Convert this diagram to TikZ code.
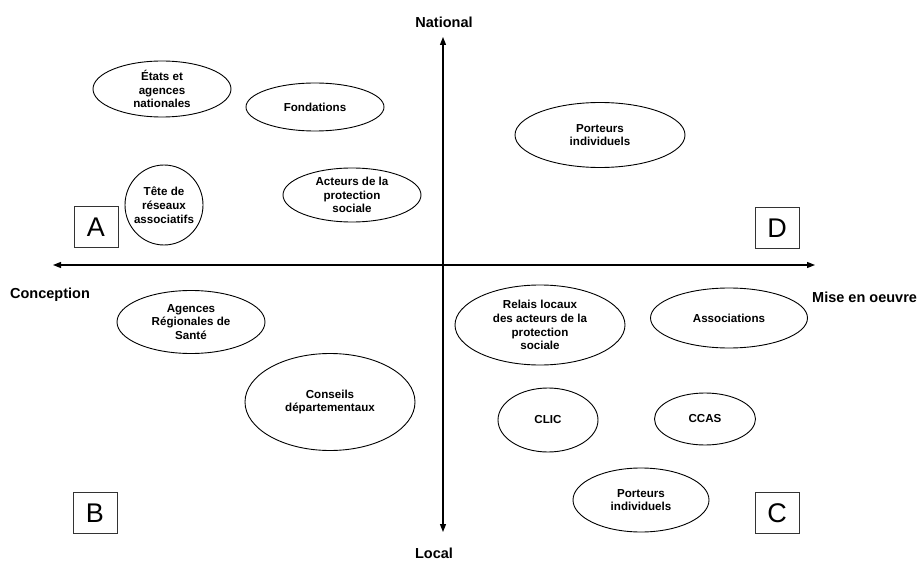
\documentclass[tikz,border=0pt]{standalone}
\usepackage{fontspec}
\setmainfont{Liberation Sans}
\usetikzlibrary{arrows.meta,shapes.geometric}
\tikzstyle{el}=[ellipse,draw=black,line width=0.9pt,inner sep=0pt,align=center,
  font=\bfseries\fontsize{11.6}{13.8}\selectfont]
\tikzstyle{qb}=[rectangle,draw=black!80,line width=1pt,inner sep=0pt,
  minimum width=44pt,minimum height=41pt,font=\fontsize{27}{27}\selectfont]
\tikzstyle{ax}=[font=\bfseries\fontsize{14.5}{17}\selectfont]
\tikzstyle{none}=[]

\begin{document}
\begin{tikzpicture}[x=1pt, y=-1pt]
            \useasboundingbox (0, 0) rectangle (918, 561);
            \node [style=el, minimum width=138, minimum height=56] (0) at (162, 89) {États et\\agences\\nationales};
            \node [style=el, minimum width=138, minimum height=48] (1) at (315, 107) {Fondations};
            \node [style=el, minimum width=78, minimum height=80, inner xsep=-3pt] (2) at (164, 205) {Tête de\\réseaux\\associatifs};
            \node [style=el, minimum width=138, minimum height=54] (3) at (352, 195) {Acteurs de la\\protection\\sociale};
            \node [style=el, minimum width=170, minimum height=65] (4) at (600, 135) {Porteurs\\individuels};
            \node [style=el, minimum width=148, minimum height=63] (5) at (191, 322) {Agences\\Régionales de\\Santé};
            \node [style=el, minimum width=170, minimum height=97] (6) at (330, 402) {Conseils\\départementaux};
            \node [style=el, minimum width=170, minimum height=80] (7) at (540, 325) {Relais locaux\\des acteurs de la\\protection\\sociale};
            \node [style=el, minimum width=157, minimum height=60] (8) at (729, 318) {Associations};
            \node [style=el, minimum width=100, minimum height=64] (9) at (548, 420) {CLIC};
            \node [style=el, minimum width=101, minimum height=52] (10) at (705, 419) {CCAS};
            \node [style=el, minimum width=136, minimum height=64] (11) at (641, 500) {Porteurs\\individuels};
            \node [style=qb] (12) at (96, 227) {A};
            \node [style=qb] (13) at (777, 228) {D};
            \node [style=qb] (14) at (95, 513) {B};
            \node [style=qb] (15) at (777, 513) {C};
            \node [style=ax] (16) at (444, 22) {National};
            \node [style=ax] (17) at (434, 553) {Local};
            \node [style=ax] (18) at (50, 295) {Conception};
            \node [style=ax, anchor=west, inner sep=0pt] (19) at (812, 297) {Mise en oeuvre};
            \coordinate (20) at (443, 37);
            \coordinate (21) at (443, 532);
            \coordinate (22) at (53, 265);
            \coordinate (23) at (815, 265);
            \draw [line width=1.3pt, {Triangle[length=8pt,width=6pt]}-{Triangle[length=8pt,width=6pt]}] (21) to (20);
            \draw [line width=1.3pt, {Triangle[length=8pt,width=6pt]}-{Triangle[length=8pt,width=6pt]}] (22) to (23);
    \end{tikzpicture}
\end{document}
